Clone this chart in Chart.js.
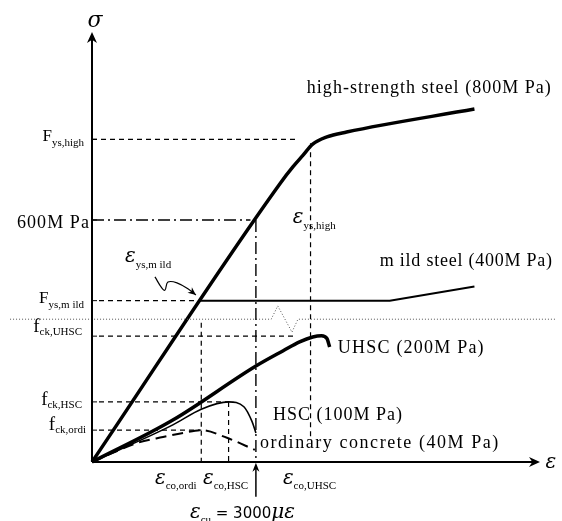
<!DOCTYPE html>
<html lang="en">
  <head>
    <meta charset="UTF-8" />
    <title>Stress-strain curves</title>
    <script src="https://cdn.jsdelivr.net/npm/chart.js"></script>
    <style>
      body { margin: 0; background: #fff; }
    </style>
  </head>
  <body>
    <canvas id="ssChart" width="562" height="521"></canvas>
    <script>
      // strain in microstrain, stress in MPa (concrete part is schematic)
      const highStrain = [0, 3440, 3680, 3860, 4040, 4300, 4660, 7000];
      const highStress = [0, 690, 732, 760, 788, 806, 818, 875];
      const mildStrain = [1960, 5450, 7000];
      const mildStress = [400, 400, 435];
      const uhscStrain = [0, 1480, 3000, 3500, 3800, 4040, 4200, 4300, 4350];
      const uhscStress = [0, 104, 238, 276, 298, 310, 313, 306, 285];
      const hscStrain = [0, 1480, 2000, 2500, 2780, 2930, 3000];
      const hscStress = [0, 92, 131, 149, 137, 100, 72];
      const ordiStrain = [0, 370, 820, 1300, 1670, 2000, 2470, 2980];
      const ordiStress = [0, 22, 47, 62, 72, 79, 60, 30];

      // key values
      const yieldHigh = 800, yieldMild = 400, stress600 = 600;
      const fckUHSC = 312, fckHSC = 149, fckOrdi = 79;
      const epsCoOrdi = 2000, epsCoHSC = 2500, epsCoUHSC = 4000, epsCu = 3000;

      // broken-axis marker and the ε_ys,mild pointer
      const breakX = [-1500, 3280, 3400, 3660, 3770, 8500];
      const breakY = [354, 354, 387, 322, 354, 354];
      const pointerX = [1152, 1280, 1335, 1390, 1555, 1792, 1902];
      const pointerY = [459, 431, 426, 446, 444, 426, 414];

      const xMax = 8200, yMax = 1066;

      const pts = (xs, ys) => xs.map((x, i) => ({ x: x, y: ys[i] }));

      const serif = (s) => s + "px 'Liberation Serif'";
      const greek = "italic 20px 'DejaVu Serif'";
      const SUB = serif(11);

      const labels = [
        { x: 55, y: 1078, align: "center", parts: [{ t: "σ", f: "italic 22px 'DejaVu Serif'" }] },
        { x: -146, y: 796, align: "right", parts: [{ t: "F", f: serif(17) }, { t: "ys,high", f: SUB, dy: 5 }] },
        { x: -37, y: 580, align: "right", w: 73, parts: [{ t: "600M Pa", f: serif(18) }] },
        { x: 3676, y: 592, align: "left", parts: [{ t: "ε", f: greek }, { t: "ys,high", f: SUB, dy: 6 }] },
        { x: 604, y: 496, align: "left", parts: [{ t: "ε", f: greek }, { t: "ys,m ild", f: SUB, dy: 6 }] },
        { x: -146, y: 394, align: "right", parts: [{ t: "F", f: serif(17) }, { t: "ys,m ild", f: SUB, dy: 5 }] },
        { x: -183, y: 322, align: "right", parts: [{ t: "f", f: serif(19) }, { t: "ck,UHSC", f: SUB, dy: 3 }] },
        { x: -183, y: 141, align: "right", parts: [{ t: "f", f: serif(19) }, { t: "ck,HSC", f: SUB, dy: 3 }] },
        { x: -110, y: 79, align: "right", parts: [{ t: "f", f: serif(19) }, { t: "ck,ordi", f: SUB, dy: 3 }] },
        { x: 3932, y: 915, align: "left", w: 245, parts: [{ t: "high-strength steel (800M Pa)", f: serif(18) }] },
        { x: 5268, y: 486, align: "left", w: 173, parts: [{ t: "m ild steel (400M Pa)", f: serif(18) }] },
        { x: 4499, y: 270, align: "left", w: 147, parts: [{ t: "UHSC (200M Pa)", f: serif(18) }] },
        { x: 3311, y: 104, align: "left", w: 130, parts: [{ t: "HSC (100M Pa)", f: serif(18) }] },
        { x: 3073, y: 35, align: "left", w: 240, parts: [{ t: "ordinary concrete (40M Pa)", f: serif(18) }] },
        { x: 8300, y: -15, align: "left", parts: [{ t: "ε", f: greek }] },
        { x: 1152, y: -55, align: "left", parts: [{ t: "ε", f: greek }, { t: "co,ordi", f: SUB, dy: 5 }] },
        { x: 2030, y: -55, align: "left", parts: [{ t: "ε", f: greek }, { t: "co,HSC", f: SUB, dy: 5 }] },
        { x: 3494, y: -55, align: "left", parts: [{ t: "ε", f: greek }, { t: "co,UHSC", f: SUB, dy: 5 }] },
        {
          x: 1792, y: -139, align: "left",
          parts: [
            { t: "ε", f: greek },
            { t: "cu", f: SUB, dy: 5 },
            { t: " = 3000", f: "15px 'DejaVu Sans'" },
            { t: "με", f: greek },
          ],
        },
      ];

      function line(data, width, dash, color, smooth) {
        return {
          data: data,
          showLine: true,
          borderColor: color || "#000",
          borderWidth: width,
          borderDash: dash || [],
          pointRadius: 0,
          fill: false,
          clip: false,
          tension: 0,
          cubicInterpolationMode: smooth ? "monotone" : "default",
        };
      }

      const dashed = [5, 4];
      const dashDot = [12, 4, 2, 4];

      function arrowHead(ctx, tx, ty, fx, fy, len, half) {
        const a = Math.atan2(ty - fy, tx - fx);
        ctx.save();
        ctx.translate(tx, ty);
        ctx.rotate(a);
        ctx.beginPath();
        ctx.moveTo(0, 0);
        ctx.lineTo(-len, -half);
        ctx.lineTo(-len * 0.7, 0);
        ctx.lineTo(-len, half);
        ctx.closePath();
        ctx.fill();
        ctx.restore();
      }

      const decorations = {
        id: "decorations",
        afterDatasetsDraw(chart) {
          const ctx = chart.ctx;
          const xs = chart.scales.x, ys = chart.scales.y;
          const X = (v) => xs.getPixelForValue(v);
          const Y = (v) => ys.getPixelForValue(v);
          ctx.save();
          ctx.fillStyle = "#000";
          ctx.strokeStyle = "#000";

          // axes
          ctx.lineWidth = 2;
          ctx.beginPath();
          ctx.moveTo(X(0), Y(0));
          ctx.lineTo(X(0), Y(yMax) + 6);
          ctx.moveTo(X(0), Y(0));
          ctx.lineTo(X(xMax) - 6, Y(0));
          ctx.stroke();
          arrowHead(ctx, X(0), Y(yMax), X(0), Y(0), 11, 5);
          arrowHead(ctx, X(xMax), Y(0), X(0), Y(0), 11, 5);

          // small ticks on the stress axis
          ctx.lineWidth = 1;
          ctx.beginPath();
          [yieldHigh, stress600, yieldMild, fckUHSC, fckHSC, fckOrdi].forEach((v) => {
            ctx.moveTo(X(0), Y(v));
            ctx.lineTo(X(0) + 5, Y(v));
          });
          ctx.stroke();

          // ε_cu pointer below the strain axis
          ctx.lineWidth = 1.5;
          ctx.beginPath();
          ctx.moveTo(X(epsCu), Y(-86));
          ctx.lineTo(X(epsCu), Y(-12));
          ctx.stroke();
          arrowHead(ctx, X(epsCu), Y(-2), X(epsCu), Y(-86), 9, 3.5);

          // head of the ε_ys,mild pointer
          const n = pointerX.length;
          arrowHead(ctx, X(pointerX[n - 1]), Y(pointerY[n - 1]),
            X(pointerX[n - 2]), Y(pointerY[n - 2]), 8, 3.5);

          // labels
          ctx.textBaseline = "alphabetic";
          labels.forEach((lb) => {
            let w = 0;
            let spacing = 0;
            lb.parts.forEach((p) => {
              ctx.font = p.f;
              w += ctx.measureText(p.t).width;
            });
            if (lb.w) {
              spacing = (lb.w - w) / lb.parts[0].t.length;
              w = lb.w;
            }
            let x = X(lb.x);
            if (lb.align === "right") x -= w;
            else if (lb.align === "center") x -= w / 2;
            const y = Y(lb.y);
            lb.parts.forEach((p) => {
              ctx.font = p.f;
              ctx.letterSpacing = spacing + "px";
              ctx.fillText(p.t, x, y + (p.dy || 0));
              x += ctx.measureText(p.t).width;
            });
            ctx.letterSpacing = "0px";
          });
          ctx.restore();
        },
      };

      const pointer = line(pts(pointerX, pointerY), 1.2);
      pointer.tension = 0.4;

      new Chart(document.getElementById("ssChart"), {
        type: "scatter",
        data: {
          datasets: [
            // reference lines
            line([{ x: 0, y: yieldHigh }, { x: 3750, y: yieldHigh }], 1.2, dashed),
            line([{ x: 128, y: yieldMild }, { x: 1960, y: yieldMild }], 1.2, dashed),
            line([{ x: 128, y: fckUHSC }, { x: 3700, y: fckUHSC }], 1.2, dashed),
            line([{ x: 128, y: fckHSC }, { x: epsCoHSC, y: fckHSC }], 1.2, dashed),
            line([{ x: 128, y: fckOrdi }, { x: epsCoOrdi, y: fckOrdi }], 1.2, dashed),
            line([{ x: epsCoUHSC, y: 790 }, { x: epsCoUHSC, y: 60 }], 1.2, dashed),
            line([{ x: epsCoOrdi, y: 345 }, { x: epsCoOrdi, y: 0 }], 1.2, dashed),
            line([{ x: epsCoHSC, y: fckHSC }, { x: epsCoHSC, y: 0 }], 1.2, dashed),
            line([{ x: 0, y: stress600 }, { x: 2900, y: stress600 }], 1.4, dashDot),
            line([{ x: epsCu, y: stress600 }, { x: epsCu, y: 0 }], 1.4, dashDot),
            line(pts(breakX, breakY), 1, [1, 2], "#555"),
            pointer,
            // material curves
            line(pts(ordiStrain, ordiStress), 2, [11, 6], null, true),
            line(pts(hscStrain, hscStress), 1.6, null, null, true),
            line(pts(uhscStrain, uhscStress), 3.5, null, null, true),
            line(pts(mildStrain, mildStress), 2),
            line(pts(highStrain, highStress), 3.5, null, null, true),
          ],
        },
        options: {
          responsive: false,
          animation: false,
          layout: { padding: { left: 92, right: 22, top: 32, bottom: 59 } },
          plugins: { legend: { display: false }, tooltip: { enabled: false } },
          scales: {
            x: { type: "linear", min: 0, max: xMax, display: false },
            y: { type: "linear", min: 0, max: yMax, display: false },
          },
        },
        plugins: [decorations],
      });
    </script>
  </body>
</html>
